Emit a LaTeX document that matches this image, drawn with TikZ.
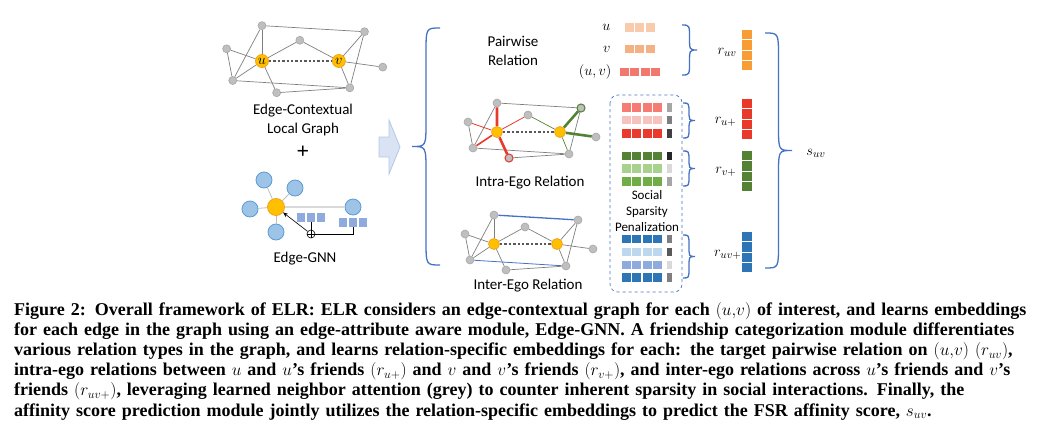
\documentclass[tikz,border=0pt]{standalone}
\usepackage{fontspec}
\setmainfont{Liberation Serif}
\newfontfamily\calibri{Carlito}
\usetikzlibrary{arrows.meta}

\definecolor{nodegrey}{HTML}{BFBFBF}
\definecolor{nodeedge}{HTML}{A6A6A6}
\definecolor{linkgrey}{HTML}{7F7F7F}
\definecolor{dotgrey}{HTML}{595959}
\definecolor{egofill}{HTML}{FFC000}
\definecolor{egoedge}{HTML}{F5A21B}
\definecolor{gnnblue}{HTML}{9DC3E6}
\definecolor{gnnedge}{HTML}{5B9BD5}
\definecolor{cellblue}{HTML}{8FAADC}
\definecolor{bracec}{HTML}{4472C4}
\definecolor{arrowfill}{HTML}{DAE3F3}
\definecolor{arrowedge}{HTML}{B4C7E7}
\definecolor{egored}{HTML}{E8392B}
\definecolor{egogreen}{HTML}{548235}
\definecolor{peach}{HTML}{F8CBAD}
\definecolor{tanemb}{HTML}{F4B183}
\definecolor{salmon}{HTML}{F2786D}
\definecolor{orangebar}{HTML}{F89D35}
\definecolor{redA}{HTML}{F47C72}
\definecolor{redB}{HTML}{F5C2BE}
\definecolor{redC}{HTML}{EA3A2E}
\definecolor{greenA}{HTML}{548235}
\definecolor{greenB}{HTML}{A9D18E}
\definecolor{greenC}{HTML}{70AD47}
\definecolor{blueA}{HTML}{2E75B6}
\definecolor{blueB}{HTML}{BDD7EE}
\definecolor{blueC}{HTML}{8FAADC}
\definecolor{attA}{HTML}{A6A6A6}
\definecolor{attB}{HTML}{7F7F7F}
\definecolor{attC}{HTML}{404040}
\definecolor{attD}{HTML}{262626}
\definecolor{attE}{HTML}{D9D9D9}
\definecolor{attF}{HTML}{595959}

% eight friend nodes of an ego graph, around u at (0,0)
\newcommand{\ringnodes}[1]{%
  \foreach \nm/\px/\py in {tl/0/-29,tr/84/-24,mt/31/-17,lf/-29/-10,bl/-24/16,bm/12/26,br/72/22,rt/99/5}
    \node[gnode] (#1\nm) at (\px,\py) {};}

% braces: x, top, bottom, amplitude
\newcommand{\leftbrace}[4]{%
  \draw[brace] (#1,#2) .. controls ({#1-#4/2},#2) .. ({#1-#4/2},{#2+#4*0.9})
    -- ({#1-#4/2},{(#2+#3)/2-#4*0.9}) .. controls ({#1-#4/2},{(#2+#3)/2}) .. ({#1-#4},{(#2+#3)/2})
    .. controls ({#1-#4/2},{(#2+#3)/2}) .. ({#1-#4/2},{(#2+#3)/2+#4*0.9})
    -- ({#1-#4/2},{#3-#4*0.9}) .. controls ({#1-#4/2},#3) .. (#1,#3);}
\newcommand{\rightbrace}[4]{%
  \draw[brace] (#1,#2) .. controls ({#1+#4/2},#2) .. ({#1+#4/2},{#2+#4*0.9})
    -- ({#1+#4/2},{(#2+#3)/2-#4*0.9}) .. controls ({#1+#4/2},{(#2+#3)/2}) .. ({#1+#4},{(#2+#3)/2})
    .. controls ({#1+#4/2},{(#2+#3)/2}) .. ({#1+#4/2},{(#2+#3)/2+#4*0.9})
    -- ({#1+#4/2},{#3-#4*0.9}) .. controls ({#1+#4/2},#3) .. (#1,#3);}

% embedding row: x, y-centre, cells, colour
\newcommand{\embrow}[4]{%
  \foreach \i in {1,...,#3}
    \fill[#4] ({#1+(\i-1)*10.3},{#2-4.3}) rectangle ++(9,8.6);}
% attention row inside the box: y-centre, colour, grey
\newcommand{\attrow}[3]{%
  \embrow{622}{#1}{4}{#2}
  \fill[#3] (667,{#1-4.3}) rectangle ++(5,8.6);}
% relation vector: y-top, colour
\newcommand{\relvec}[2]{%
  \foreach \i in {0,...,3}
    \fill[#2] (742,{#1+\i*10.3}) rectangle ++(10,9.3);}

\begin{document}
\begin{tikzpicture}[x=1pt,y=-1pt,
  gnode/.style={circle,fill=nodegrey,draw=nodeedge,line width=0.6pt,inner sep=0pt,minimum size=8pt},
  egonode/.style={circle,fill=egofill,draw=egoedge,line width=0.8pt,inner sep=0pt,minimum size=11pt,
    font=\fontsize{14}{14}\selectfont},
  glink/.style={draw=linkgrey,line width=0.7pt},
  dotlink/.style={draw=dotgrey,line width=2.4pt,dash pattern=on 2.4pt off 2pt},
  bnode/.style={circle,fill=gnnblue,draw=gnnedge,line width=0.8pt,inner sep=0pt,minimum size=16pt},
  cell/.style={rectangle,fill=cellblue,inner sep=0pt,minimum width=8.6pt,minimum height=9pt},
  brace/.style={draw=bracec,line width=1.3pt},
  label/.style={font=\calibri\fontsize{15}{19}\selectfont,align=center},
  mlabel/.style={font=\fontsize{15}{18}\selectfont}]
\useasboundingbox (0,0) rectangle (1056,434);

% edge-contextual local graph
\begin{scope}[shift={(262,61)},scale=1.22]
  \ringnodes{a}
  \node[egonode,minimum size=13pt] (au) at (0,0) {$u$};
  \node[egonode,minimum size=13pt] (av) at (63,0) {$v$};
\end{scope}
\foreach \ea/\eb in {tl/tr,tl/u,tl/bl,lf/u,lf/bl,u/mt,mt/v,u/bl,u/bm,bl/br,bm/br,v/tr,v/rt,tr/br,v/br}
  \draw[glink] (a\ea) -- (a\eb);
\draw[dotlink] (au) -- (av);
\node[label] (ctx) at (303,120) {Edge-Contextual\\Local Graph};
\node[font=\bfseries\fontsize{22}{22}\selectfont] (plusA) at (303,152) {+};

% edge-gnn
\node[bnode] (gt) at (264,180) {};
\node[bnode] (gr) at (295,188) {};
\node[bnode] (gl) at (250,209) {};
\node[bnode] (gb) at (276,232) {};
\node[bnode] (ge) at (353,207) {};
\node[bnode,fill=egofill,draw=egoedge,minimum size=17pt] (gc) at (276,207) {};
\foreach \ea in {gt,gr,gl,gb}
  \draw[draw=nodegrey,line width=0.8pt] (gc) -- (\ea);
\draw[draw=attE,line width=1.8pt] (gc) -- (ge);
\foreach \i/\px in {1/301,2/311,3/321}
  \node[cell] (ga\i) at (\px,217.5) {};
\foreach \i/\px in {1/343,2/353,3/363}
  \node[cell] (gz\i) at (\px,222.5) {};
\node[circle,draw,line width=0.6pt,inner sep=0pt,minimum size=8pt] (sum) at (311,234) {};
\draw[line width=0.6pt] (sum.north) -- (sum.south) (sum.east) -- (sum.west);
\draw[line width=0.8pt] (sum) -- (ga2);
\draw[line width=0.8pt] (sum) -| (gz2);
\draw[line width=0.6pt,-{Stealth[length=5pt,width=4pt]}] (sum) -- (gc);
\node[label] (gnn) at (305,259) {Edge-GNN};

% block arrow and big brace
\draw[fill=arrowfill,draw=arrowedge,line width=0.8pt]
  (379,137) -- (389,137) -- (389,120) -- (400,147) -- (389,174) -- (389,157) -- (379,157) -- cycle;
\leftbrace{440}{28}{265}{28}

% pairwise relation
\node[label] (pair) at (513,51) {Pairwise\\Relation};
\node[mlabel,anchor=east,font=\fontsize{14}{14}\selectfont] (lu) at (614,27) {$u$};
\node[mlabel,anchor=east,font=\fontsize{14}{14}\selectfont] (lv) at (614,49) {$v$};
\node[mlabel,anchor=east,font=\fontsize{14}{14}\selectfont] (luv) at (615,72) {$(u,v)$};
\embrow{625}{27.5}{3}{peach}
\embrow{625}{49}{3}{tanemb}
\embrow{620}{72}{4}{salmon}
\rightbrace{682}{25}{75}{15}

% intra-ego relation
\begin{scope}[shift={(497,132)}]
  \ringnodes{b}
  \node[egonode] (bu) at (0,0) {};
  \node[egonode] (bv) at (63,0) {};
\end{scope}
\foreach \ea/\eb in {tl/tr,tl/bl,lf/bl,bl/br,bm/br,tr/br}
  \draw[glink] (b\ea) -- (b\eb);
\draw[egored,line width=2.6pt] (bu) -- (btl) (bu) -- (bbm);
\draw[egored,line width=1.6pt] (bu) -- (bbl);
\draw[egored,line width=0.8pt] (bu) -- (blf) (bu) -- (bmt);
\draw[egogreen,line width=2.6pt] (bv) -- (btr) (bv) -- (brt);
\draw[egogreen,line width=0.7pt] (bv) -- (bmt) (bv) -- (bbr);
\node[gnode,draw=egogreen,line width=1pt] at (btr) {};
\node[gnode,draw=egored,line width=1pt] at (bbm) {};
\draw[dotlink] (bu) -- (bv);
\node[label] (intra) at (530,183) {Intra-Ego Relation};

% inter-ego relation
\begin{scope}[shift={(494,244)}]
  \ringnodes{c}
  \node[egonode] (cu) at (0,0) {};
  \node[egonode] (cv) at (63,0) {};
\end{scope}
\foreach \ea/\eb in {tl/u,tl/bl,lf/u,lf/bl,u/mt,mt/v,u/bl,u/bm,bm/br,v/tr,v/rt,tr/br,v/br}
  \draw[glink] (c\ea) -- (c\eb);
\draw[bracec,line width=1.3pt] (ctl) -- (ctr);
\draw[bracec,line width=0.8pt] (cbl) -- (cbr);
\draw[dotlink] (cu) -- (cv);
\node[label] (inter) at (528,286) {Inter-Ego Relation};

% social sparsity penalization
\draw[bracec,dashed,line width=0.7pt,rounded corners=8pt] (610,95) rectangle (682,292);
\attrow{107.5}{redA}{attA}
\attrow{120}{redB}{attB}
\attrow{133.5}{redC}{attC}
\attrow{156}{greenA}{attD}
\attrow{168.5}{greenB}{attE}
\attrow{181.5}{greenC}{attA}
\node[label,font=\calibri\fontsize{13}{16}\selectfont] (ssp) at (647,211) {Social\\Sparsity\\Penalization};
\attrow{239}{blueA}{attB}
\attrow{252}{blueB}{attF}
\attrow{265}{blueC}{attE}
\attrow{277.5}{blueA}{attB}
\rightbrace{683}{103}{138}{12}
\rightbrace{683}{151}{186}{12}
\rightbrace{683}{235}{278}{12}

% relation vectors and affinity score
\relvec{30}{orangebar}
\relvec{99}{egored}
\relvec{151}{egogreen}
\relvec{232}{blueA}
\node[mlabel,anchor=east] (ruv) at (740,52) {$r_{uv}$};
\node[mlabel,anchor=east] (rup) at (740,122) {$r_{u+}$};
\node[mlabel,anchor=east] (rvp) at (740,172) {$r_{v+}$};
\node[mlabel,anchor=east] (ruvp) at (745,255) {$r_{uv+}$};
\rightbrace{765}{33}{268}{27}
\node[mlabel] (suv) at (816,153) {$s_{uv}$};

% caption
\node[anchor=north west,inner sep=0pt,text width=1008pt,
  font=\bfseries\fontsize{18}{20.2}\selectfont] (cap) at (14,302) {%
\makebox[\linewidth][s]{Figure 2: Overall framework of ELR: ELR considers an edge-contextual graph for each $(u{,}v)$ of interest, and learns embeddings}\\
\makebox[\linewidth][s]{for each edge in the graph using an edge-attribute aware module, Edge-GNN. A friendship categorization module differentiates}\\
\makebox[\linewidth][s]{various relation types in the graph, and learns relation-specific embeddings for each: the target pairwise relation on $(u{,}v)$ $(r_{uv})$,}\\
\makebox[\linewidth][s]{intra-ego relations between $u$ and $u$'s friends $(r_{u+})$ and $v$ and $v$'s friends $(r_{v+})$, and inter-ego relations across $u$'s friends and $v$'s}\\
\makebox[\linewidth][s]{friends $(r_{uv+})$, leveraging learned neighbor attention (grey) to counter inherent sparsity in social interactions. Finally, the}\\
affinity score prediction module jointly utilizes the relation-specific embeddings to predict the FSR affinity score, $s_{uv}$.};
\end{tikzpicture}
\end{document}
